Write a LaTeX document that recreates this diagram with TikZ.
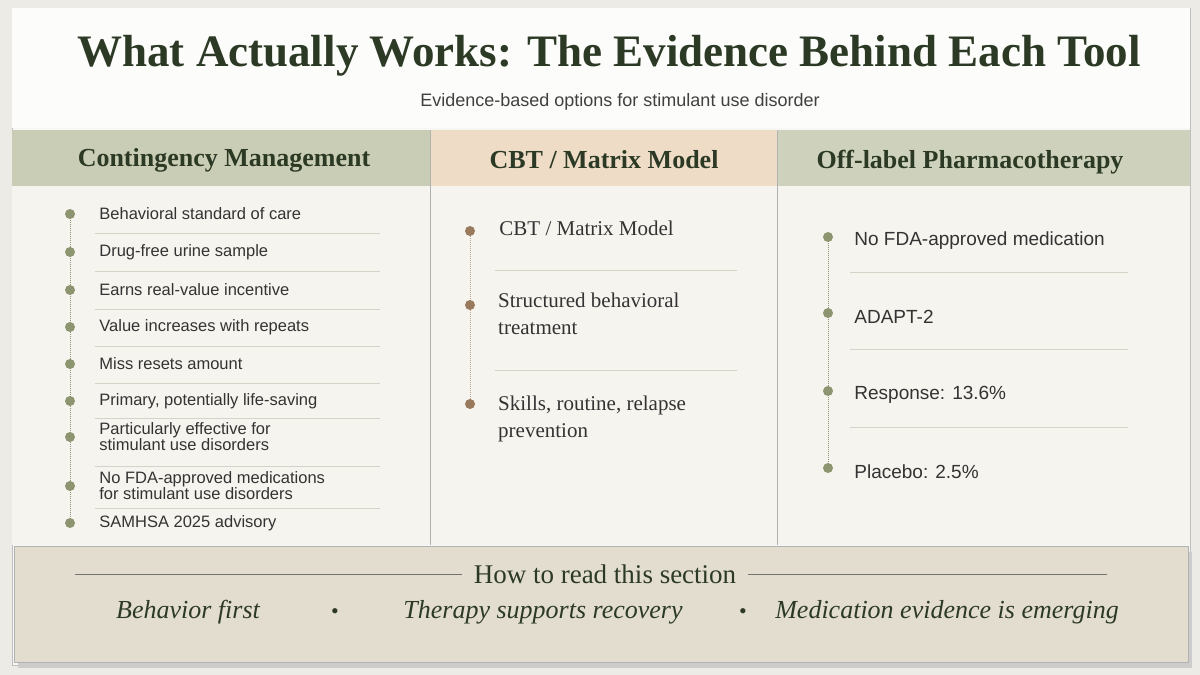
\documentclass[tikz,border=0pt]{standalone}
\usepackage{fontspec}
\setmainfont{Liberation Serif}
\setsansfont{Liberation Sans}
\usetikzlibrary{positioning}
\definecolor{paper}{HTML}{ECEBE6}
\definecolor{ink}{HTML}{2C3A25}
\definecolor{sage}{HTML}{C9CDB5}
\definecolor{peach}{HTML}{EEDCC6}
\definecolor{body}{HTML}{F6F4EE}
\definecolor{band}{HTML}{E3DDD0}
\definecolor{dotg}{HTML}{8C9470}
\definecolor{dotb}{HTML}{9A7A5C}
\definecolor{rule}{HTML}{D6D2C6}
\tikzset{
  item/.style={anchor=west, align=left, inner sep=0pt, font=\sffamily\fontsize{16.5}{16}\selectfont, text=black!80},
  itemc/.style={anchor=west, align=left, inner sep=0pt, font=\fontsize{21}{27}\selectfont, text=black!80},
  itemr/.style={anchor=west, align=left, inner sep=0pt, font=\sffamily\fontsize{19}{19}\selectfont, text=black!80},
  head/.style={inner sep=0pt, font=\bfseries\fontsize{26}{26}\selectfont, text=ink},
  pip/.style={circle, fill=#1, minimum size=10pt, inner sep=0pt},
  sep/.style={rule, line width=1pt},
  note/.style={inner sep=0pt, font=\itshape\fontsize{26}{26}\selectfont, text=ink}
}
\begin{document}
\begin{tikzpicture}[x=1pt,y=-1pt]
\useasboundingbox (0,0) rectangle (1200,675);
\fill[paper] (0,0) rectangle (1200,675);
% panels
\fill[white!60!paper, draw=black!25] (12,8) rectangle (1190,665);
\fill[white!70!body] (12,8) rectangle (1190,128);
\fill[sage] (12,130) rectangle (430,186);
\fill[peach] (430,130) rectangle (777,186);
\fill[sage!90!white] (777,130) rectangle (1190,186);
\fill[body] (12,186) rectangle (1190,545);
\draw[black!30] (430,130) -- (430,545) (777,130) -- (777,545);
% title
\node[inner sep=0pt, font=\bfseries\fontsize{45}{45}\selectfont, text=ink] (title) at (609,56) {What Actually Works: The Evidence Behind Each Tool};
\node[inner sep=0pt, font=\sffamily\fontsize{18}{18}\selectfont, text=black!75] (sub) at (620,102) {Evidence-based options for stimulant use disorder};
% headers
\node[head] (h1) at (224,160) {Contingency Management};
\node[head] (h2) at (604,160) {CBT / Matrix Model};
\node[head] (h3) at (970,162) {Off-label Pharmacotherapy};
% column 1
\draw[dotg, densely dotted, line width=1pt] (70,214) -- (70,523);
\foreach \y/\t in {214/Behavioral standard of care, 252/Drug-free urine sample, 290/Earns real-value incentive,
  327/Value increases with repeats, 364/Miss resets amount, 401/Primary{,} potentially life-saving,
  437/Particularly effective for\\stimulant use disorders, 486/No FDA-approved medications\\for stimulant use disorders,
  523/SAMHSA 2025 advisory}{
  \node[pip=dotg] (a\y) at (70,\y) {};
  \node[item, right=24pt of a\y] (ta\y) {\t};
}
\foreach \y in {233,271,309,346,383,418,466,508} \draw[sep] (95,\y) -- (380,\y);
% column 2
\draw[dotb!70, densely dotted, line width=1pt] (470,234) -- (470,404);
\node[pip=dotb] (b1) at (470,231) {};
\node[itemc, right=24pt of b1, yshift=3pt] (tb1) {CBT / Matrix Model};
\node[pip=dotb] (b2) at (470,305) {};
\node[itemc, anchor=north west] (tb2) at (498,293) {Structured behavioral\\treatment};
\node[pip=dotb] (b3) at (470,404) {};
\node[itemc, anchor=north west] (tb3) at (498,396) {Skills, routine, relapse\\prevention};
\draw[sep] (495,270) -- (737,270) (495,370) -- (737,370);
% column 3
\draw[dotg, densely dotted, line width=1pt] (828,237) -- (828,468);
\foreach \y/\t in {237/No FDA-approved medication, 313/ADAPT-2, 391/Response: 13.6\%, 468/Placebo: 2.5\%}{
  \node[pip=dotg] (c\y) at (828,\y) {};
  \node[itemr, right=21pt of c\y, yshift=-4pt] (tc\y) {\t};
}
\draw[sep] (850,272) -- (1128,272) (850,349) -- (1128,349) (850,427) -- (1128,427);
% reading band
\fill[black!20] (18,552) rectangle (1192,668);
\fill[band, draw=black!30] (14,546) rectangle (1188,662);
\node[inner sep=0pt, font=\fontsize{27}{27}\selectfont, text=ink] (how) at (605,574) {How to read this section};
\coordinate (hl) at (75,574);
\coordinate (hr) at (1107,574);
\draw[black!55, line width=1pt] (hl) -- ([xshift=-12pt]how.west) ([xshift=12pt]how.east) -- (hr);
\node[note] (n1) at (188,612) {Behavior first};
\node[inner sep=0pt, text=ink, font=\fontsize{22}{22}\selectfont] (d1) at (335,614) {\textbullet};
\node[note] (n2) at (543,612) {Therapy supports recovery};
\node[inner sep=0pt, text=ink, font=\fontsize{22}{22}\selectfont] (d2) at (743,614) {\textbullet};
\node[note] (n3) at (947,612) {Medication evidence is emerging};
\end{tikzpicture}
\end{document}
